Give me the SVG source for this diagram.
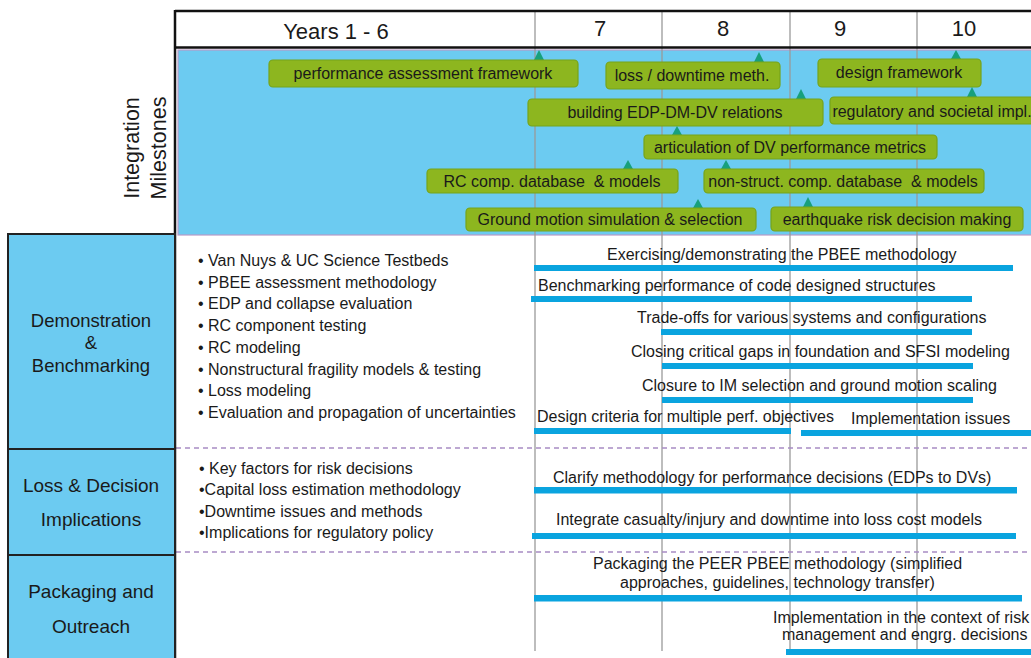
<svg xmlns="http://www.w3.org/2000/svg" width="1031" height="658" viewBox="0 0 1031 658">
<style>
  text { font-family: "Liberation Sans", Arial, sans-serif; fill: #1a1a1a; }
  .hdr { font-size: 22px; text-anchor: middle; }
  .side { font-size: 19px; text-anchor: middle; }
  .rot { font-size: 21.5px; text-anchor: middle; }
  .ms rect { fill: #8DB61F; stroke: #76A31A; stroke-width: 1.2; }
  .ms polygon { fill: #17A07C; }
  .ms text { font-size: 16px; text-anchor: middle; white-space: pre; }
  .bul { font-size: 16px; }
  .task text { font-size: 16px; white-space: pre; }
  .task rect { fill: #0AA4DF; }
  .grid { stroke: #9a9a9a; stroke-width: 1.3; }
  .dash { stroke: #A88CC4; stroke-width: 1.3; stroke-dasharray: 5 4; }
  .sidebox { fill: #6CCBF1; stroke: #222; stroke-width: 2; }
</style>

<rect width="1031" height="658" fill="#fff"/>

<!-- milestone band -->
<rect id="milestone-band" x="178" y="50" width="860" height="185" fill="#6CCBF1" stroke="#B89CC9" stroke-width="1.2"/>

<!-- grid lines -->
<g id="grid">
  <line class="grid" x1="535" y1="11" x2="535" y2="651"/>
  <line class="grid" x1="662" y1="11" x2="662" y2="651"/>
  <line class="grid" x1="790" y1="11" x2="790" y2="651"/>
  <line class="grid" x1="917" y1="11" x2="917" y2="651"/>
  <line class="dash" x1="176" y1="448" x2="1031" y2="448"/>
  <line class="dash" x1="176" y1="552" x2="1031" y2="552"/>
</g>

<!-- header frame -->
<g id="header">
  <line x1="175" y1="11" x2="1031" y2="11" stroke="#111" stroke-width="2.5"/>
  <line x1="175" y1="47.5" x2="1031" y2="47.5" stroke="#111" stroke-width="2.5"/>
  <line x1="175" y1="10" x2="175" y2="658" stroke="#111" stroke-width="2.5"/>
  <text class="hdr" x="336" y="39">Years 1 - 6</text>
  <text class="hdr" x="600" y="36">7</text>
  <text class="hdr" x="723" y="36">8</text>
  <text class="hdr" x="840" y="36">9</text>
  <text class="hdr" x="964" y="36">10</text>
</g>

<!-- rotated label -->
<g id="integration-label">
  <text class="rot" transform="translate(139,148) rotate(-90)" x="0" y="0">Integration</text>
  <text class="rot" transform="translate(166,148) rotate(-90)" x="0" y="0">Milestones</text>
</g>

<!-- side boxes -->
<g id="side-demo">
  <rect class="sidebox" x="8" y="234" width="167" height="215"/>
  <text class="side" x="91" y="327" style="font-size:18.5px">Demonstration</text>
  <text class="side" x="91" y="349" style="font-size:18.5px">&amp;</text>
  <text class="side" x="91" y="372" style="font-size:18.5px">Benchmarking</text>
</g>
<g id="side-loss">
  <rect class="sidebox" x="8" y="449" width="167" height="106"/>
  <text class="side" x="91" y="492">Loss &amp; Decision</text>
  <text class="side" x="91" y="526">Implications</text>
</g>
<g id="side-pack">
  <rect class="sidebox" x="8" y="555" width="167" height="108"/>
  <text class="side" x="91" y="598">Packaging and</text>
  <text class="side" x="91" y="633">Outreach</text>
</g>

<!-- milestones -->
<g id="milestones" class="ms">
  <g id="ms-paf">
    <polygon points="539,50 534,60 544,60"/>
    <rect x="269" y="60" width="309" height="27" rx="4"/>
    <text x="423" y="79">performance assessment framework</text>
  </g>
  <g id="ms-loss">
    <polygon points="759,52 754,62 764,62"/>
    <rect x="606" y="62" width="174" height="27" rx="4"/>
    <text x="692" y="81">loss / downtime meth.</text>
  </g>
  <g id="ms-design">
    <polygon points="956,50 951,59 961,59"/>
    <rect x="818" y="59" width="163" height="28" rx="4"/>
    <text x="899" y="78">design framework</text>
  </g>
  <g id="ms-edp">
    <polygon points="801,89 796,99 806,99"/>
    <rect x="528" y="99" width="295" height="27" rx="4"/>
    <text x="675" y="118">building EDP-DM-DV relations</text>
  </g>
  <g id="ms-reg">
    <polygon points="972,87 967,97 977,97"/>
    <rect x="830" y="97" width="210" height="27" rx="4"/>
    <text x="932" y="117">regulatory and societal impl.</text>
  </g>
  <g id="ms-dv">
    <polygon points="677,126 672,135 682,135"/>
    <rect x="644" y="135" width="293" height="24" rx="4"/>
    <text x="790" y="153">articulation of DV performance metrics</text>
  </g>
  <g id="ms-rc">
    <polygon points="628,160 623,169 633,169"/>
    <rect x="427" y="169" width="251" height="24" rx="4"/>
    <text x="552" y="187">RC comp. database  &amp; models</text>
  </g>
  <g id="ms-ns">
    <polygon points="726,160 721,169 731,169"/>
    <rect x="704" y="169" width="280" height="24" rx="4"/>
    <text x="843" y="187">non-struct. comp. database  &amp; models</text>
  </g>
  <g id="ms-gm">
    <polygon points="698,199 693,208 703,208"/>
    <rect x="466" y="208" width="290" height="23" rx="4"/>
    <text x="610" y="225">Ground motion simulation &amp; selection</text>
  </g>
  <g id="ms-eq">
    <polygon points="808,197 803,207 813,207"/>
    <rect x="771" y="207" width="252" height="24" rx="4"/>
    <text x="897" y="225">earthquake risk decision making</text>
  </g>
</g>

<!-- bullet lists -->
<g id="demo-bullets">
  <text class="bul" x="198" y="266">• Van Nuys &amp; UC Science Testbeds</text>
  <text class="bul" x="198" y="287.7">• PBEE assessment methodology</text>
  <text class="bul" x="198" y="309.4">• EDP and collapse evaluation</text>
  <text class="bul" x="198" y="331">• RC component testing</text>
  <text class="bul" x="198" y="352.8">• RC modeling</text>
  <text class="bul" x="198" y="374.5">• Nonstructural fragility models &amp; testing</text>
  <text class="bul" x="198" y="396.2">• Loss modeling</text>
  <text class="bul" x="198" y="418">• Evaluation and propagation of uncertainties</text>
</g>
<g id="loss-bullets">
  <text class="bul" x="199" y="474">• Key factors for risk decisions</text>
  <text class="bul" x="199" y="495.3">•Capital loss estimation methodology</text>
  <text class="bul" x="199" y="516.7">•Downtime issues and methods</text>
  <text class="bul" x="199" y="538">•Implications for regulatory policy</text>
</g>

<!-- task bars -->
<g id="tasks" class="task">
  <g id="t1"><rect x="534" y="265" width="479" height="6"/><text x="607" y="260">Exercising/demonstrating the PBEE methodology</text></g>
  <g id="t2"><rect x="531" y="296" width="441" height="6"/><text x="538" y="291">Benchmarking performance of code designed structures</text></g>
  <g id="t3"><rect x="661" y="329" width="311" height="6"/><text x="637" y="323">Trade-offs for various systems and configurations</text></g>
  <g id="t4"><rect x="662" y="363" width="311" height="6"/><text x="631" y="357">Closing critical gaps in foundation and SFSI modeling</text></g>
  <g id="t5"><rect x="662" y="397" width="311" height="6"/><text x="642" y="391">Closure to IM selection and ground motion scaling</text></g>
  <g id="t6a"><rect x="534" y="428" width="257" height="6"/><text x="537" y="422">Design criteria for multiple perf. objectives</text></g>
  <g id="t6b"><rect x="801" y="430" width="235" height="6"/><text x="851" y="424">Implementation issues</text></g>
  <g id="t7"><rect x="534" y="487" width="483" height="6.5"/><text x="553" y="483">Clarify methodology for performance decisions (EDPs to DVs)</text></g>
  <g id="t8"><rect x="532" y="533" width="484" height="6"/><text x="556" y="525">Integrate casualty/injury and downtime into loss cost models</text></g>
  <g id="t9"><rect x="534" y="595" width="488" height="6.5"/><text x="593" y="569">Packaging the PEER PBEE methodology (simplified</text><text x="620" y="588">approaches, guidelines, technology transfer)</text></g>
  <g id="t10"><rect x="786" y="649" width="250" height="6"/><text x="773" y="623">Implementation in the context of risk</text><text x="782" y="640">management and engrg. decisions</text></g>
</g>
</svg>
